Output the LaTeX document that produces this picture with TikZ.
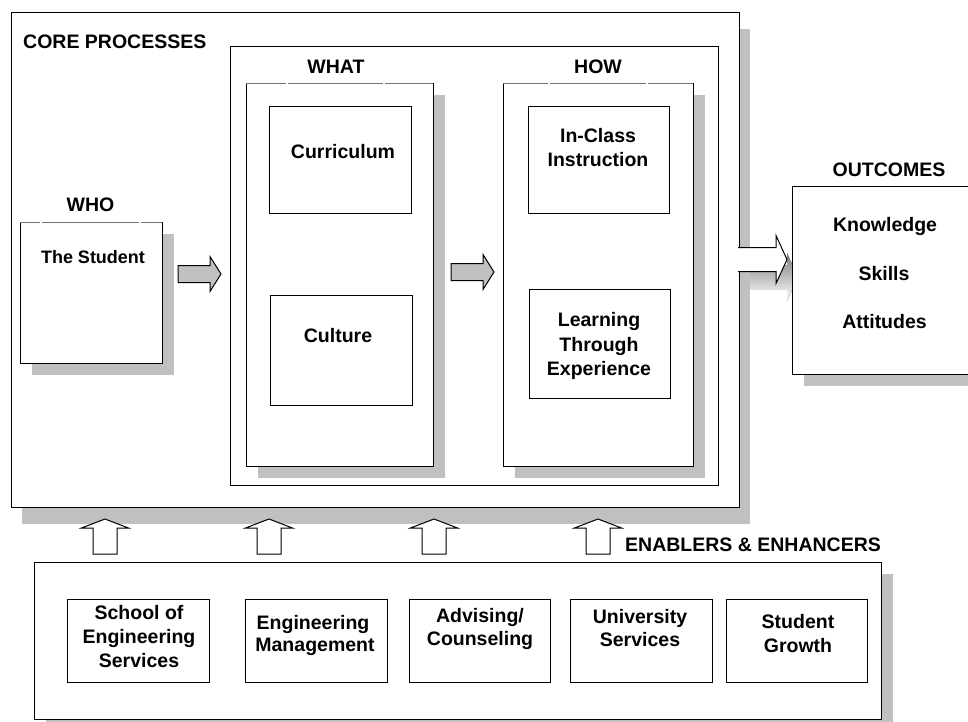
\documentclass[tikz,border=0pt]{standalone}
\usepackage{fontspec}
\setmainfont{Liberation Sans}
\usetikzlibrary{fit,shadows,calc}
\definecolor{shade}{RGB}{192,192,192}
\begin{document}
\begin{tikzpicture}[x=1pt,y=-1pt,
  box/.style={draw=black, line width=1pt, fill=white, inner sep=0pt, outer sep=0pt},
  drop/.style={general shadow={fill=shade, shadow xshift=12pt, shadow yshift=-12pt}},
  bigdrop/.style={general shadow={fill=shade, shadow xshift=11pt, shadow yshift=-17pt}},
  lbl/.style={font=\fontsize{19.5}{22}\selectfont\bfseries, inner sep=0pt, anchor=base},
  tabline/.style={line width=1pt, black!55},
  fat/.style={draw=black, line width=1pt, line join=miter},
  rarrow/.pic={\draw[fat, fill=shade] (0,-8.5) -- (32,-8.5) -- (32,-17.5) -- (43,0) -- (32,17.5) -- (32,8.5) -- (0,8.5) -- cycle;},
  uarrow/.pic={\draw[fat, fill=white] (-12,0) -- (-12,-26) -- (-23.5,-26) -- (0,-35) -- (23.5,-26) -- (12,-26) -- (12,0) -- cycle;},
]
\useasboundingbox (0,0) rectangle (968,721);
\clip (0,0) rectangle (968,721);

% shadow of the arrow leaving the core frame
\fill[shade] (750,265) -- (787,265) -- (787,253) -- (798,277) -- (787,301) -- (787,289) -- (750,289) -- cycle;

% core processes frame
\node[box, bigdrop, fit={(11,12) (739,507)}] (core) {};
\coordinate (tip) at ($(core.east)+(48,0)$);
\draw[fat, fill=white] ($(core.east)+(-1,-12)$) -- ($(core.east)+(37,-12)$) -- ($(core.east)+(37,-24)$)
  -- (tip) -- ($(core.east)+(37,24)$) -- ($(core.east)+(37,12)$) -- ($(core.east)+(-1,12)$);

% what / how frame
\node[box, fit={(230,46) (718,485)}] (mid) {};

% who
\node[box, drop, fit={(20,222) (162,363)}] (who) {};
% what
\node[box, drop, fit={(246,83) (433,466)}] (what) {};
\node[box, fit={(269,106) (411,213)}] (curr) {};
\node[box, fit={(270,295) (412,405)}] (cult) {};
% how
\node[box, drop, fit={(503,83) (693,466)}] (how) {};
\node[box, fit={(528,106) (669,213)}] (incl) {};
\node[box, fit={(529,289) (670,398)}] (lrn) {};

% tab edges on the column boxes
\draw[tabline] (who.north west) -- (who.north east);
\draw[tabline] (what.north west) -- (what.north east);
\draw[tabline] (how.north west) -- (how.north east);
\foreach \gx/\gy in {41/222, 140/222, 287/83, 384/83, 549/83, 647/83}
  \fill[white] (\gx-1,\gy-1.5) rectangle (\gx+1,\gy+1.5);

% flow arrows
\pic (flowA) at (178,274) {rarrow};
\pic (flowB) at (451,272) {rarrow};

% outcomes
\node[box, drop, fit={(792,186) (1010,374)}] (outc) {};

% enablers and enhancers
\node[box, drop, fit={(34,562) (881,719)}] (enab) {};
\node[box, fit={(67,599) (209,682)}] (e1) {};
\node[box, fit={(245,599) (387,682)}] (e2) {};
\node[box, fit={(409,599) (550,682)}] (e3) {};
\node[box, fit={(570,599) (712,682)}] (e4) {};
\node[box, fit={(726,599) (867,682)}] (e5) {};

\pic (upA) at (105,554) {uarrow};
\pic (upB) at (269,554) {uarrow};
\pic (upC) at (434,554) {uarrow};
\pic (upD) at (598,554) {uarrow};

% labels
\node[lbl, anchor=base west] (tcore) at (23,48) {CORE PROCESSES};
\node[lbl] (twhat) at (336,73) {WHAT};
\node[lbl] (thow) at (598,73) {HOW};
\node[lbl] (twho) at (90.5,211) {WHO};
\node[lbl, font=\fontsize{18}{20}\selectfont\bfseries] (tstu) at (93,263) {The Student};
\node[lbl] (tcur) at (343,158) {Curriculum};
\node[lbl] (tcul) at (338,342) {Culture};
\node[lbl] (tin1) at (598,142) {In-Class};
\node[lbl] (tin2) at (598,166) {Instruction};
\node[lbl] (tle1) at (599,326.5) {Learning};
\node[lbl] (tle2) at (599,351) {Through};
\node[lbl] (tle3) at (599,375) {Experience};
\node[lbl] (tout) at (889,176) {OUTCOMES};
\node[lbl] (tkno) at (885,231) {Knowledge};
\node[lbl] (tski) at (884,280) {Skills};
\node[lbl] (tatt) at (884.5,328) {Attitudes};
\node[lbl, anchor=base west] (tena) at (625,551) {ENABLERS \& ENHANCERS};
\node[lbl] (te1a) at (139,619) {School of};
\node[lbl] (te1b) at (139,643) {Engineering};
\node[lbl] (te1c) at (139,667) {Services};
\node[lbl] (te2a) at (313,629) {Engineering};
\node[lbl] (te2b) at (315,651) {Management};
\node[lbl] (te3a) at (480,622) {Advising/};
\node[lbl] (te3b) at (480,645) {Counseling};
\node[lbl] (te4a) at (640,623) {University};
\node[lbl] (te4b) at (640,646) {Services};
\node[lbl] (te5a) at (798,628) {Student};
\node[lbl] (te5b) at (798,652) {Growth};
\end{tikzpicture}
\end{document}
